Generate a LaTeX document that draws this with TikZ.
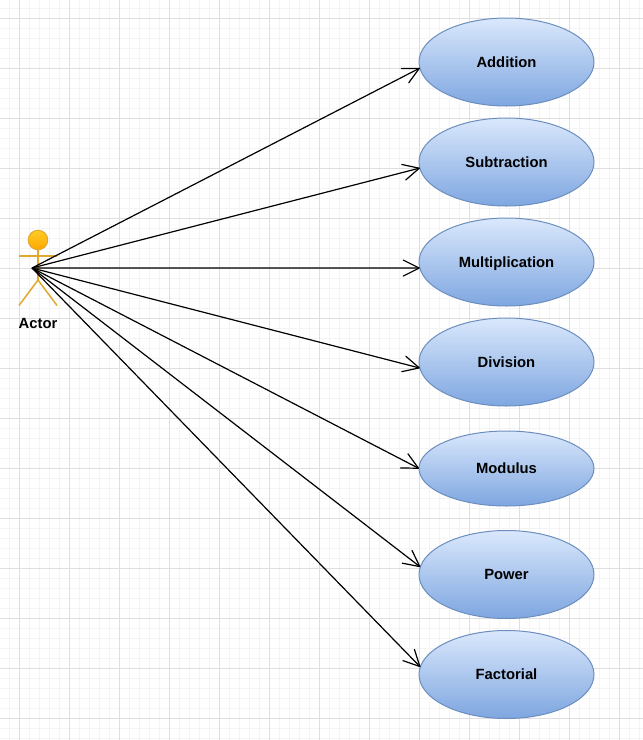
\documentclass[tikz,border=0pt]{standalone}
\usepackage{fontspec}
\setmainfont{Liberation Sans}
\usetikzlibrary{arrows.meta,shapes.geometric}
\definecolor{gridminor}{HTML}{F4F4F4}
\definecolor{gridmajor}{HTML}{DFDFDF}
\definecolor{usetop}{HTML}{DAE8FC}
\definecolor{usebottom}{HTML}{7EA6E0}
\definecolor{useline}{HTML}{6C8EBF}
\definecolor{actortop}{HTML}{FFCD28}
\definecolor{actorbottom}{HTML}{FFA500}
\definecolor{actorline}{HTML}{E0A92B}
\tikzset{
  usecase/.style={ellipse, draw=useline, line width=1pt, top color=usetop, bottom color=usebottom,
    minimum width=175pt, minimum height=88pt, inner sep=0pt, outer sep=0pt,
    text height=10.6pt, text depth=0pt,
    font=\fontsize{14.8}{16}\selectfont\bfseries},
  limb/.style={draw=actorline, line width=1.5pt},
  link/.style={-{Straight Barb[length=16pt,width=16pt,round]}, line width=1.2pt, black},
  gridline/.style={line width=1pt}
}
\begin{document}
\begin{tikzpicture}[x=1pt, y=-1pt]
  \useasboundingbox (0,0) rectangle (643,740);
  \fill[white] (0,0) rectangle (643,740);
  \foreach \i in {9.5,19.5,...,639.5} \draw[gridline, gridminor] (\i,0) -- (\i,740);
  \foreach \j in {8.5,18.5,...,738.5} \draw[gridline, gridminor] (0,\j) -- (643,\j);
  \foreach \i in {19.5,69.5,...,619.5} \draw[gridline, gridmajor] (\i,0) -- (\i,740);
  \foreach \j in {18.5,68.5,...,718.5} \draw[gridline, gridmajor] (0,\j) -- (643,\j);

  \node[usecase] (addition) at (506.5,62) {Addition};
  \node[usecase] (subtraction) at (506.5,162) {Subtraction};
  \node[usecase] (multiplication) at (506.5,262) {Multiplication};
  \node[usecase] (division) at (506.5,362) {Division};
  \node[usecase, minimum height=75pt] (modulus) at (506.5,468.5) {Modulus};
  \node[usecase] (power) at (506.5,574.5) {Power};
  \node[usecase] (factorial) at (506.5,674.5) {Factorial};

  \node[circle, draw=actorline, line width=1pt, top color=actortop, bottom color=actorbottom,
    minimum size=19.5pt, inner sep=0pt, outer sep=0pt] (head) at (38,240) {};
  \coordinate (hip) at (38,280);
  \coordinate (armleft) at (19,256);
  \coordinate (armright) at (57,256);
  \coordinate (footleft) at (19,305.5);
  \coordinate (footright) at (57,305.5);
  \coordinate (hub) at (32,268);
  \draw[limb] (head.south) -- (hip);
  \draw[limb] (armleft) -- (armright);
  \draw[limb] (footleft) -- (hip) -- (footright);
  \node[font=\fontsize{14.8}{16}\selectfont\bfseries] (actor) at (38,323) {Actor};

  \draw[link] (hub) -- (addition.184);
  \draw[link] (hub) -- (subtraction.184);
  \draw[link] (hub) -- (multiplication.184);
  \draw[link] (hub) -- (division.184);
  \draw[link] (hub) -- (modulus.west);
  \draw[link] (hub) -- (power.175);
  \draw[link] (hub) -- (factorial.175);
\end{tikzpicture}
\end{document}
